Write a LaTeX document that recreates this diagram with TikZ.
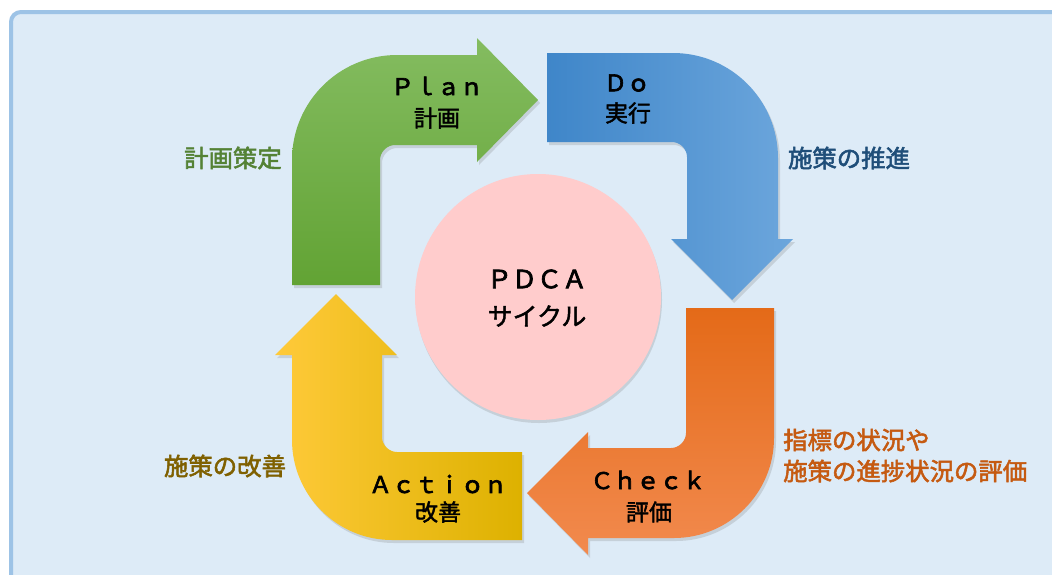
\documentclass[tikz,border=0pt]{standalone}
\usepackage{fontspec}
\newfontfamily\jpm{Noto Sans CJK JP}[FakeBold=2.8]
\newfontfamily\jpk{Noto Sans CJK JP}[FakeBold=1.8]
\newfontfamily\jpl{Noto Sans CJK JP}[FakeBold=2.2]
\usetikzlibrary{shadows}
\definecolor{framefill}{HTML}{DDEBF7}
\definecolor{frameline}{HTML}{9DC3E6}
\definecolor{gtop}{HTML}{84BC60}
\definecolor{gbot}{HTML}{62A334}
\definecolor{bleft}{HTML}{3F86C9}
\definecolor{bright}{HTML}{6CA6DC}
\definecolor{otop}{HTML}{E46A18}
\definecolor{obot}{HTML}{F28A4E}
\definecolor{yleft}{HTML}{FFCA3A}
\definecolor{ymid}{HTML}{FFC400}
\definecolor{yright}{HTML}{DDB100}
\definecolor{circfill}{HTML}{FFCCCC}
\definecolor{lgreen}{HTML}{548235}
\definecolor{lblue}{HTML}{1F4E79}
\definecolor{lorange}{HTML}{C55A11}
\definecolor{lolive}{HTML}{7F6000}
\tikzset{
  arrowshape/.style={draw=none, drop shadow={shadow xshift=2pt, shadow yshift=-3pt, opacity=0.25}},
  intext/.style={font=\jpm\fontsize{23}{23}\selectfont, text=black, inner sep=0pt},
  inkanji/.style={font=\jpk\fontsize{23}{23}\selectfont, text=black, inner sep=0pt},
  sidelabel/.style={font=\jpl\fontsize{24.4}{24.4}\selectfont, inner sep=0pt},
}
\begin{document}
\begin{tikzpicture}[x=1pt,y=-1pt]
\useasboundingbox (0,0) rectangle (1052,574);
\fill[white] (0,0) rectangle (1052,574);
\begin{scope}
\clip (0,0) rectangle (1052,574);
\draw[line width=4pt, draw=frameline, fill=framefill, rounded corners=10pt] (11,12) rectangle (1080,600);
\end{scope}
% Plan (green)
\path[arrowshape, top color=gtop, bottom color=gbot]
 (292,285) -- (292,160) .. controls (292,102) and (339,55) .. (397,55) -- (477,55) -- (477,38) -- (538,100) -- (477,162) -- (477,145) -- (395,145) .. controls (387,145) and (380,152) .. (380,160) -- (380,285) -- cycle;
% Do (blue)
\path[arrowshape, left color=bleft, right color=bright]
 (547,53) -- (673,53) .. controls (731,53) and (778,100) .. (778,158) -- (778,239) -- (793,239) -- (732,300) -- (671,239) -- (687,239) -- (687,157) .. controls (687,149) and (680,142) .. (672,142) -- (547,142) -- cycle;
% Check (orange)
\path[arrowshape, top color=otop, bottom color=obot]
 (686,308) -- (774,308) -- (774,438) .. controls (774,493) and (729,538) .. (674,538) -- (588,538) -- (588,555) -- (527,493) -- (588,432) -- (588,448) -- (671,448) .. controls (679,448) and (686,441) .. (686,433) -- cycle;
% Action (yellow)
\path[arrowshape, left color=yleft, middle color=ymid, right color=yright]
 (522,452) -- (522,540) -- (392,540) .. controls (337,540) and (292,495) .. (292,440) -- (292,355) -- (275,355) -- (336,294) -- (397,355) -- (382,355) -- (382,437) .. controls (382,445) and (389,452) .. (397,452) -- cycle;
% centre circle
\node[circle, minimum size=246pt, inner sep=0pt, fill=circfill, drop shadow={shadow xshift=1pt, shadow yshift=-3pt, opacity=0.25}] (cyc) at (538,297) {};
\node[intext, font=\jpm\fontsize{25}{25}\selectfont] (pdca) at (537,279) {ＰＤＣＡ};
\node[inkanji, font=\jpk\fontsize{25}{25}\selectfont] (cycle) at (537,316) {サイクル};
% arrow labels
\node[intext] (plan) at (437,86) {Ｐｌａｎ};
\node[inkanji] (keikaku) at (437,118) {計画};
\node[intext] (do) at (627,83) {Ｄｏ};
\node[inkanji] (jikko) at (628,113) {実行};
\node[intext] (check) at (648,480) {Ｃｈｅｃｋ};
\node[inkanji] (hyoka) at (649,512) {評価};
\node[intext] (action) at (438,484) {Ａｃｔｉｏｎ};
\node[inkanji] (kaizen) at (438,512) {改善};
% side labels
\node[sidelabel, text=lgreen] (l1) at (233,158) {計画策定};
\node[sidelabel, text=lblue] (l2) at (849,158) {施策の推進};
\node[sidelabel, text=lorange, anchor=west] (l3a) at (783,440) {指標の状況や};
\node[sidelabel, text=lorange, anchor=west] (l3b) at (783,471) {施策の進捗状況の評価};
\node[sidelabel, text=lolive] (l4) at (225,466) {施策の改善};
\end{tikzpicture}
\end{document}
